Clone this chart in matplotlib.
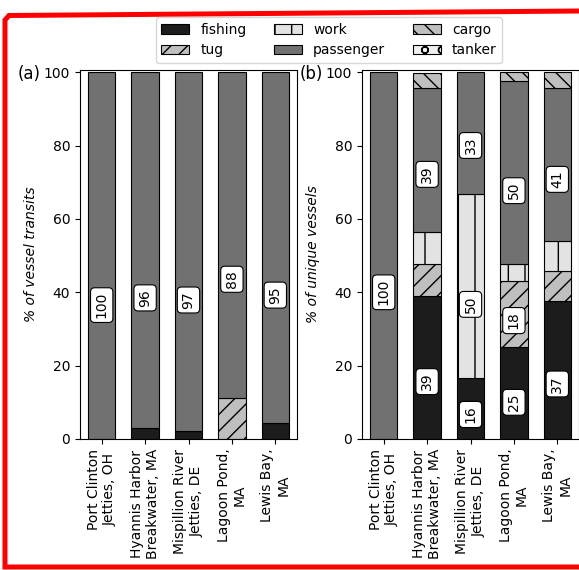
import numpy as np
import matplotlib
matplotlib.use("Agg")
import matplotlib.pyplot as plt
from matplotlib.patches import Patch
from matplotlib.lines import Line2D

SITES = ["Port Clinton\nJetties, OH", "Hyannis Harbor\nBreakwater, MA",
         "Mispillion River\nJetties, DE", "Lagoon Pond,\nMA", "Lewis Bay,\nMA"]
CATEGORIES = ["fishing", "tug", "work", "passenger", "cargo", "tanker"]

# % of vessel transits per site
transit_fishing = [0.0, 3.1, 2.2, 0.0, 4.3]
transit_tug = [0.0, 0.0, 0.0, 11.1, 0.0]
transit_work = [0.0, 0.0, 0.0, 0.0, 0.0]
transit_passenger = [100.0, 96.9, 97.8, 88.9, 95.7]
transit_cargo = [0.0, 0.0, 0.0, 0.0, 0.0]
transit_tanker = [0.0, 0.0, 0.0, 0.0, 0.0]

# % of unique vessels per site
unique_fishing = [0.0, 39.1, 16.7, 25.0, 37.5]
unique_tug = [0.0, 8.7, 0.0, 18.2, 8.3]
unique_work = [0.0, 8.7, 50.0, 4.5, 8.3]
unique_passenger = [100.0, 39.1, 33.3, 50.0, 41.7]
unique_cargo = [0.0, 4.3, 0.0, 2.3, 4.2]
unique_tanker = [0.0, 0.0, 0.0, 0.0, 0.0]

STYLE = {
    "fishing": dict(color="#1c1c1c", hatch=""),
    "tug": dict(color="#bfbfbf", hatch="//"),
    "work": dict(color="#e3e3e3", hatch="|"),
    "passenger": dict(color="#717171", hatch=""),
    "cargo": dict(color="#bfbfbf", hatch="\\\\"),
    "tanker": dict(color="#efefef", hatch="o"),
}

LABEL_MIN = 15
BAR_W = 0.63


def draw_panel(ax, data, frac, ylabel, tag):
    x = np.arange(len(SITES))
    bottom = np.zeros(len(SITES))
    for cat in CATEGORIES:
        vals = np.array(data[cat])
        keep = vals > 0
        if keep.any():
            ax.bar(x[keep], vals[keep], BAR_W, bottom=bottom[keep],
                   color=STYLE[cat]["color"], hatch=STYLE[cat]["hatch"],
                   edgecolor="black", linewidth=0.8)
        for i in np.where(vals > LABEL_MIN)[0]:
            ax.text(x[i], bottom[i] + frac * vals[i], str(int(vals[i])),
                    rotation=90, ha="center", va="center", fontsize=10,
                    bbox=dict(boxstyle="round,pad=0.3", fc="white", ec="black", lw=0.8))
        bottom += vals

    ax.set_xlim(-0.5, 4.5)
    ax.set_ylim(0, 100.6)
    ax.set_yticks([0, 20, 40, 60, 80, 100])
    ax.set_xticks(x)
    ax.set_xticklabels(SITES, rotation=90, fontsize=10)
    ax.tick_params(axis="y", labelsize=10)
    ax.set_ylabel(ylabel, fontsize=10, style="italic")
    ax.text(-0.286, 0.989, tag, transform=ax.transAxes, fontsize=12,
            ha="left", va="center")


def main():
    transits = dict(zip(CATEGORIES, [transit_fishing, transit_tug, transit_work,
                                     transit_passenger, transit_cargo, transit_tanker]))
    unique = dict(zip(CATEGORIES, [unique_fishing, unique_tug, unique_work,
                                   unique_passenger, unique_cargo, unique_tanker]))

    fig = plt.figure(figsize=(5.79, 5.70), dpi=100)
    ax_a = fig.add_axes([80 / 579, 131 / 570, 217 / 579, 369 / 570])
    ax_b = fig.add_axes([362 / 579, 131 / 570, 217 / 579, 369 / 570])

    draw_panel(ax_a, transits, 0.365, "% of vessel transits", "(a)")
    draw_panel(ax_b, unique, 0.40, "% of unique vessels", "(b)")

    handles = [Patch(facecolor=STYLE[c]["color"], hatch=STYLE[c]["hatch"],
                     edgecolor="black", linewidth=0.8, label=c) for c in CATEGORIES]
    fig.legend(handles=handles, ncol=3, loc="center", fontsize=10,
               bbox_to_anchor=(329 / 579, 1 - 40 / 570))

    # red outline round the figure
    px = np.array([580, 5, 5, 9, 580]) / 579
    py = 1 - np.array([567, 567, 20, 15.5, 11]) / 570
    fig.add_artist(Line2D(px, py, transform=fig.transFigure, color="red",
                          linewidth=3.6, solid_joinstyle="miter"))

    fig.savefig("out.png", dpi=100)
    plt.close(fig)


if __name__ == "__main__":
    main()
